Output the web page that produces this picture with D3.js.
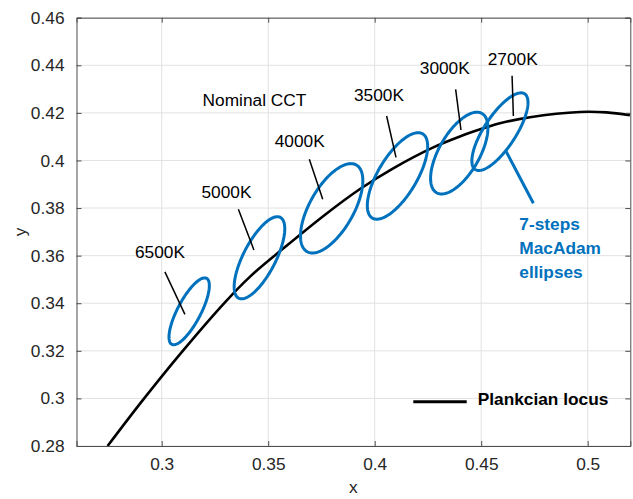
<!DOCTYPE html>
<html>
<head>
<meta charset="utf-8">
<script src="https://cdn.jsdelivr.net/npm/d3@7"></script>
<style>
  html, body { margin: 0; padding: 0; background: #fff; }
  svg { display: block; font-family: "Liberation Sans", Arial, Helvetica, sans-serif; }
</style>
</head>
<body>
<svg id="chart" width="633" height="499"></svg>
<script>
// Axis ticks
const xTickValues = [0.3, 0.35, 0.4, 0.45, 0.5];
const xTickLabels = ["0.3", "0.35", "0.4", "0.45", "0.5"];
const yTickValues = [0.28, 0.3, 0.32, 0.34, 0.36, 0.38, 0.4, 0.42, 0.44, 0.46];
const yTickLabels = ["0.28", "0.3", "0.32", "0.34", "0.36", "0.38", "0.4", "0.42", "0.44", "0.46"];

// Planckian locus (CIE 1931 x, y)
const locusX = [0.2746, 0.2914, 0.3099, 0.3297, 0.3415, 0.3579, 0.3767, 0.3931, 0.4087, 0.4275, 0.4400, 0.4510, 0.4588, 0.4729, 0.4964, 0.5089, 0.5198];
const locusY = [0.2800, 0.2996, 0.3200, 0.3404, 0.3512, 0.3636, 0.3772, 0.3880, 0.3967, 0.4055, 0.4101, 0.4135, 0.4156, 0.4182, 0.4204, 0.4202, 0.4190];

// 7-step MacAdam ellipses: centre, semi-axes and tilt (degrees) in xy
const cctNames  = ["6500K", "5000K", "4000K", "3500K", "3000K", "2700K"];
const ellCx     = [0.3129, 0.3459, 0.3798, 0.4107, 0.4397, 0.4588];
const ellCy     = [0.3366, 0.3591, 0.3799, 0.3935, 0.4031, 0.4121];
const ellA      = [0.0161, 0.0196, 0.0216, 0.0213, 0.0198, 0.0197];
const ellB      = [0.0053, 0.0074, 0.0100, 0.0088, 0.0092, 0.0072];
const ellTheta  = [58.9, 59.2, 56.1, 55.1, 55.9, 53.0];

// CCT label anchors and their leader lines (xy units)
const labelX    = [0.2992, 0.3304, 0.3648, 0.4020, 0.4329, 0.4648];
const labelY    = [0.3590, 0.3842, 0.4058, 0.4251, 0.4362, 0.4401];
const leadX1    = [0.3015, 0.3360, 0.3693, 0.4056, 0.4380, 0.4645];
const leadY1    = [0.3532, 0.3795, 0.4005, 0.4187, 0.4299, 0.4356];
const leadX2    = [0.3109, 0.3433, 0.3756, 0.4100, 0.4405, 0.4651];
const leadY2    = [0.3353, 0.3624, 0.3837, 0.4013, 0.4128, 0.4187];

const svg = d3.select("#chart");
const W = 633, H = 499;
const margin = { top: 17.7, right: 2.7, bottom: 53, left: 76.5 };
const iw = W - margin.left - margin.right;
const ih = H - margin.top - margin.bottom;

const x = d3.scaleLinear().domain([0.26, 0.52]).range([0, iw]);
const y = d3.scaleLinear().domain([0.28, 0.46]).range([ih, 0]);

const g = svg.append("g").attr("transform", `translate(${margin.left},${margin.top})`);

const fontSize = "17.3px";
const axisColor = "#262626";
const blue = "#0072BD";

// grid
g.append("g").selectAll("line").data(xTickValues).join("line")
  .attr("x1", d => x(d)).attr("x2", d => x(d)).attr("y1", 0).attr("y2", ih)
  .attr("stroke", "#e2e2e2").attr("stroke-width", 1);
g.append("g").selectAll("line").data(yTickValues).join("line")
  .attr("x1", 0).attr("x2", iw).attr("y1", d => y(d)).attr("y2", d => y(d))
  .attr("stroke", "#e2e2e2").attr("stroke-width", 1);

// axes with inward ticks on all four sides
const tickLen = 5;
const xAxisB = d3.axisBottom(x).tickValues(xTickValues).tickSize(-tickLen).tickPadding(12)
  .tickFormat((d, i) => xTickLabels[i]);
const xAxisT = d3.axisTop(x).tickValues(xTickValues).tickSize(-tickLen).tickFormat("");
const yAxisL = d3.axisLeft(y).tickValues(yTickValues).tickSize(-tickLen).tickPadding(12)
  .tickFormat((d, i) => yTickLabels[i]);
const yAxisR = d3.axisRight(y).tickValues(yTickValues).tickSize(-tickLen).tickFormat("");

function styleAxis(sel) {
  sel.selectAll(".domain").attr("stroke", "#4d4d4d").attr("stroke-width", 1);
  sel.selectAll(".tick line").attr("stroke", "#4d4d4d").attr("stroke-width", 1);
  sel.selectAll(".tick text").attr("fill", axisColor).style("font-size", fontSize)
    .style("font-family", "'Liberation Sans', Arial, Helvetica, sans-serif");
}

// curve and ellipses are drawn before the axes so the box sits on top
const plot = g.append("g");

const locus = locusX.map((v, i) => [v, locusY[i]]);
plot.append("path")
  .datum(locus)
  .attr("fill", "none")
  .attr("stroke", "#000")
  .attr("stroke-width", 2.6)
  .attr("d", d3.line().x(d => x(d[0])).y(d => y(d[1])).curve(d3.curveCatmullRom.alpha(0.5)));

const angles = d3.range(0, 2 * Math.PI, Math.PI / 90);
cctNames.forEach((name, i) => {
  const th = ellTheta[i] * Math.PI / 180;
  const pts = angles.map(t => [
    ellCx[i] + ellA[i] * Math.cos(th) * Math.cos(t) - ellB[i] * Math.sin(th) * Math.sin(t),
    ellCy[i] + ellA[i] * Math.sin(th) * Math.cos(t) + ellB[i] * Math.cos(th) * Math.sin(t)
  ]);
  plot.append("path")
    .datum(pts)
    .attr("fill", "none")
    .attr("stroke", blue)
    .attr("stroke-width", 3)
    .attr("d", d3.line().x(d => x(d[0])).y(d => y(d[1])).curve(d3.curveLinearClosed));
});

// CCT labels and leaders
cctNames.forEach((name, i) => {
  plot.append("line")
    .attr("x1", x(leadX1[i])).attr("y1", y(leadY1[i]))
    .attr("x2", x(leadX2[i])).attr("y2", y(leadY2[i]))
    .attr("stroke", "#000").attr("stroke-width", 1.5);
  plot.append("text")
    .attr("x", x(labelX[i])).attr("y", y(labelY[i]))
    .attr("text-anchor", "middle")
    .style("font-size", fontSize).attr("fill", "#000")
    .text(name);
});

plot.append("text")
  .attr("x", x(0.3192)).attr("y", y(0.4229))
  .style("font-size", fontSize).attr("fill", "#000")
  .text("Nominal CCT");

// ellipse annotation
plot.append("line")
  .attr("x1", x(0.4616)).attr("y1", y(0.4040))
  .attr("x2", x(0.4745)).attr("y2", y(0.3820))
  .attr("stroke", blue).attr("stroke-width", 3);
const noteLines = ["7-steps", "MacAdam", "ellipses"];
const noteY = [0.3708, 0.3607, 0.3506];
noteLines.forEach((t, i) => {
  plot.append("text")
    .attr("x", x(0.4679)).attr("y", y(noteY[i]))
    .style("font-size", fontSize).style("font-weight", "bold")
    .attr("fill", blue)
    .text(t);
});

// axes
styleAxis(g.append("g").attr("transform", `translate(0,${ih})`).call(xAxisB));
styleAxis(g.append("g").call(xAxisT));
styleAxis(g.append("g").call(yAxisL));
styleAxis(g.append("g").attr("transform", `translate(${iw},0)`).call(yAxisR));

// legend
const lg = g.append("g").attr("transform", `translate(${iw - 217}, ${ih - 44.3})`);
lg.append("line").attr("x1", 0).attr("x2", 53.4).attr("y1", 0).attr("y2", 0)
  .attr("stroke", "#000").attr("stroke-width", 3);
lg.append("text").attr("x", 64.4).attr("y", 3.3)
  .style("font-size", fontSize).style("font-weight", "bold").attr("fill", "#000")
  .text("Plankcian locus");

// axis labels
svg.append("text")
  .attr("x", margin.left + iw / 2).attr("y", 493)
  .attr("text-anchor", "middle").style("font-size", fontSize).attr("fill", axisColor)
  .text("x");
svg.append("text")
  .attr("transform", `translate(26, ${margin.top + ih / 2}) rotate(-90)`)
  .attr("text-anchor", "middle").style("font-size", fontSize).attr("fill", axisColor)
  .text("y");
</script>
</body>
</html>
